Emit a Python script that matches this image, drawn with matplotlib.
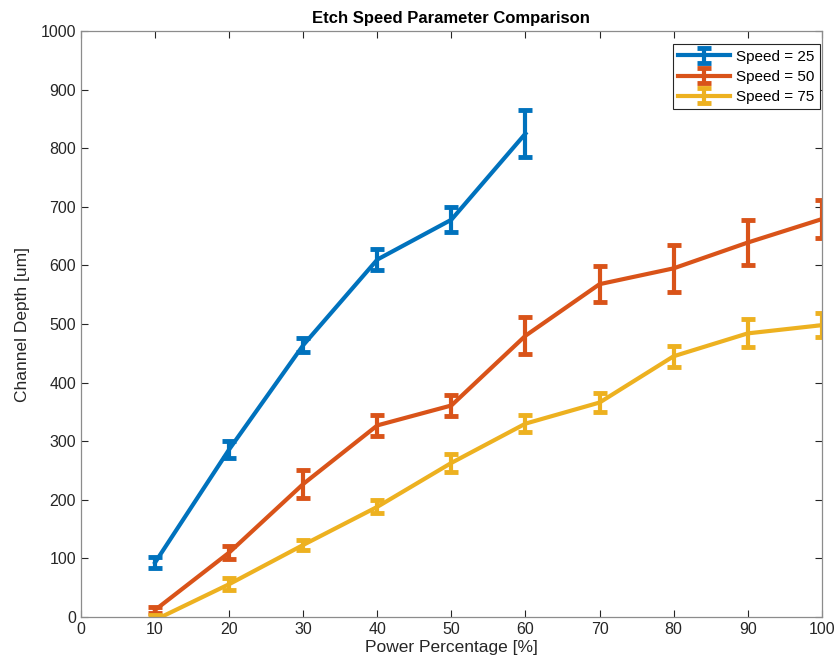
import matplotlib
matplotlib.use("Agg")
import matplotlib.pyplot as plt

plt.rcParams['font.family'] = ['Liberation Sans', 'DejaVu Sans']

# power settings [%]
power = [10, 20, 30, 40, 50, 60, 70, 80, 90, 100]

# speed 25 only run up to 60 %
depth_25 = [93, 286, 464, 610, 678, 825]
err_25 = [9, 15, 12, 18, 21, 40]

depth_50 = [12, 110, 227, 327, 361, 480, 568, 595, 639, 679]
err_50 = [5, 11, 24, 18, 18, 32, 31, 40, 38, 33]

depth_75 = [-5, 56, 123, 188, 263, 330, 366, 445, 484, 498]
err_75 = [8, 10, 8, 11, 15, 15, 17, 18, 24, 21]

labels = ['Speed = 25', 'Speed = 50', 'Speed = 75']
colors = ['#0072BD', '#D95319', '#EDB120']

fig = plt.figure(figsize=(8.37, 6.7), dpi=100)
ax = fig.add_axes([0.0968, 0.0791, 0.885, 0.8746])

series = [(power[:len(depth_25)], depth_25, err_25),
          (power, depth_50, err_50),
          (power, depth_75, err_75)]
for (x, y, e), lab, c in zip(series, labels, colors):
    ax.errorbar(x, y, yerr=e, color=c, linewidth=3, elinewidth=3,
                capsize=5, capthick=3.5, label=lab)

ax.set_xlim(0, 100)
ax.set_ylim(0, 1000)
ax.set_xticks(range(0, 101, 10))
ax.set_yticks(range(0, 1001, 100))
ax.tick_params(direction='in', length=5, width=0.8, colors='#262626',
               labelsize=11.5, top=True, right=True)
for s in ax.spines.values():
    s.set_color('#8c8c8c')
    s.set_linewidth(0.9)

ax.set_title('Etch Speed Parameter Comparison', fontsize=12, fontweight='bold', pad=6)
ax.set_xlabel('Power Percentage [%]', fontsize=12.5, color='#262626', labelpad=2)
ax.set_ylabel('Channel Depth [um]', fontsize=12.5, color='#262626', labelpad=8)

leg = ax.legend(loc='upper right', fontsize=11, fancybox=False, framealpha=1,
                edgecolor='#262626', handlelength=3.4, borderpad=0.35,
                labelspacing=0.4, handletextpad=0.4, borderaxespad=0,
                bbox_to_anchor=(0.9973, 0.977))
leg.get_frame().set_linewidth(0.8)

fig.savefig('out.png', dpi=100)
